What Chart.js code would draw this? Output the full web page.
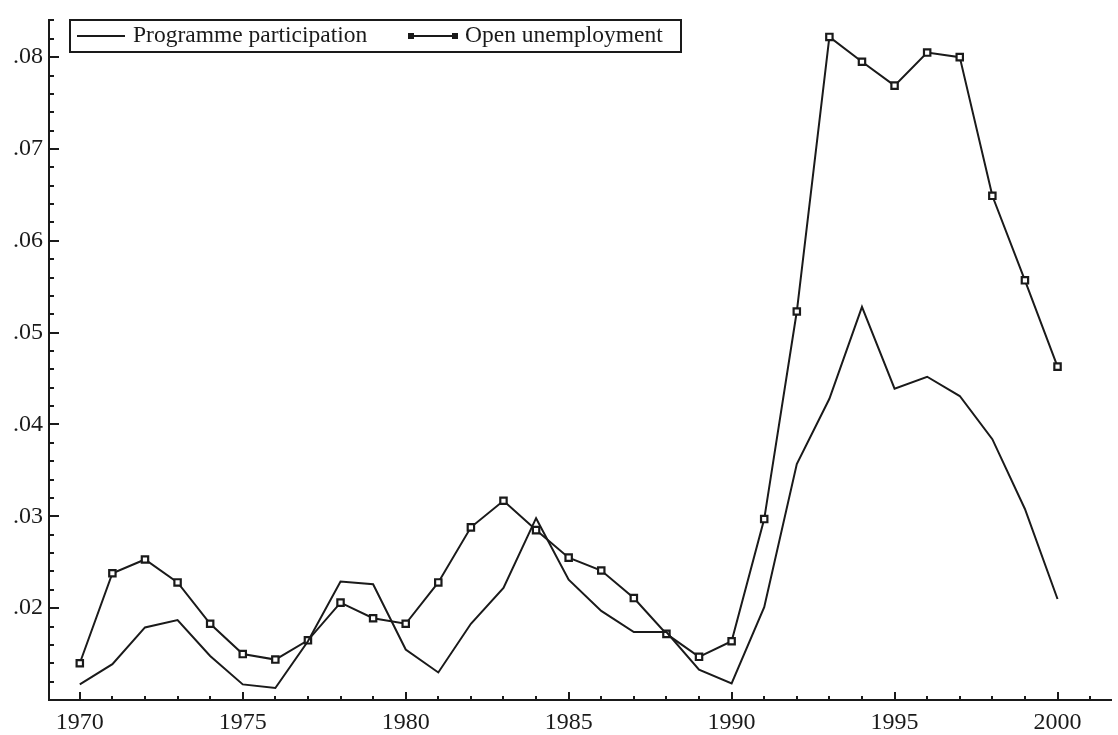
<!DOCTYPE html>
<html>
<head>
<meta charset="utf-8">
<title>Programme participation and open unemployment, 1970–2000</title>
<script src="https://cdn.jsdelivr.net/npm/chart.js@4.4.1/dist/chart.umd.min.js"></script>
<style>
  html, body { margin: 0; padding: 0; background: #ffffff; }
  #wrap { width: 1118px; height: 735px; }
  canvas { display: block; }
</style>
</head>
<body>
<div id="wrap"><canvas id="chart" width="1118" height="735"></canvas></div>
<script>
// Annual series, 1970–2000 (share of labour force)
const years = [1970, 1971, 1972, 1973, 1974, 1975, 1976, 1977, 1978, 1979,
               1980, 1981, 1982, 1983, 1984, 1985, 1986, 1987, 1988, 1989,
               1990, 1991, 1992, 1993, 1994, 1995, 1996, 1997, 1998, 1999, 2000];

const programmeParticipation = [0.0117, 0.0139, 0.0179, 0.0187, 0.0148, 0.0117, 0.0113, 0.0164, 0.0229, 0.0226,
                                0.0155, 0.0130, 0.0183, 0.0222, 0.0298, 0.0231, 0.0197, 0.0174, 0.0174, 0.0133,
                                0.0118, 0.0201, 0.0357, 0.0428, 0.0528, 0.0439, 0.0452, 0.0431, 0.0384, 0.0308, 0.0210];

const openUnemployment = [0.0140, 0.0238, 0.0253, 0.0228, 0.0183, 0.0150, 0.0144, 0.0165, 0.0206, 0.0189,
                          0.0183, 0.0228, 0.0288, 0.0317, 0.0285, 0.0255, 0.0241, 0.0211, 0.0172, 0.0147,
                          0.0164, 0.0297, 0.0523, 0.0822, 0.0795, 0.0769, 0.0805, 0.0800, 0.0649, 0.0557, 0.0463];

// Labelled ticks
const xTickLabels = [1970, 1975, 1980, 1985, 1990, 1995, 2000];
const yTickLabels = [0.02, 0.03, 0.04, 0.05, 0.06, 0.07, 0.08];

// Legend entries
const seriesNames = ['Programme participation', 'Open unemployment'];

const INK = '#1a1a1a';
const FONT_FAMILY = '"Liberation Serif", "Times New Roman", serif';

const toPoints = (vals) => years.map((yr, i) => ({ x: yr, y: vals[i] }));

// Tick marks drawn inward from both axes: every year / every 0.002,
// longer marks at every fifth year / every 0.01.
const innerTicks = {
  id: 'innerTicks',
  afterDraw(chart) {
    const { ctx, chartArea, scales: { x, y } } = chart;
    ctx.save();
    ctx.strokeStyle = INK;
    ctx.lineWidth = 2;
    ctx.beginPath();
    for (let k = 0; ; k++) {
      const v = y.min + k * 0.002;
      if (v > y.max + 1e-9) break;
      const py = Math.round(y.getPixelForValue(v));
      const len = (k % 5 === 0) ? 10 : 5;
      ctx.moveTo(chartArea.left, py);
      ctx.lineTo(chartArea.left + len, py);
    }
    for (let yr = Math.ceil(x.min); yr <= x.max; yr++) {
      const px = Math.round(x.getPixelForValue(yr));
      if (px <= chartArea.left + 1) continue;
      const len = (yr % 5 === 0) ? 8 : 4;
      ctx.moveTo(px, chartArea.bottom);
      ctx.lineTo(px, chartArea.bottom - len);
    }
    ctx.stroke();
    ctx.restore();
  }
};

// Boxed legend inside the plot, top-left
const boxedLegend = {
  id: 'boxedLegend',
  afterDraw(chart) {
    const { ctx, chartArea } = chart;
    const left = chartArea.left + 21, top = 20, right = 681, bottom = 52;
    const midY = (top + bottom) / 2;
    ctx.save();
    ctx.fillStyle = '#ffffff';
    ctx.fillRect(left, top, right - left, bottom - top);
    ctx.strokeStyle = INK;
    ctx.lineWidth = 2;
    ctx.strokeRect(left, top, right - left, bottom - top);

    // first entry: plain line
    ctx.beginPath();
    ctx.moveTo(left + 7, midY);
    ctx.lineTo(left + 55, midY);
    ctx.stroke();

    // second entry: line with square markers at each end
    const s0 = 411, s1 = 455;
    ctx.beginPath();
    ctx.moveTo(s0, midY);
    ctx.lineTo(s1, midY);
    ctx.stroke();
    ctx.fillStyle = INK;
    ctx.fillRect(s0 - 3, midY - 3, 6, 6);
    ctx.fillRect(s1 - 3, midY - 3, 6, 6);

    ctx.font = '23.5px ' + FONT_FAMILY;
    ctx.textBaseline = 'middle';
    ctx.textAlign = 'left';
    ctx.fillStyle = INK;
    ctx.fillText(seriesNames[0], left + 63, midY);
    ctx.fillText(seriesNames[1], 465, midY);
    ctx.restore();
  }
};

new Chart(document.getElementById('chart'), {
  type: 'line',
  data: {
    datasets: [
      {
        label: seriesNames[0],
        data: toPoints(programmeParticipation),
        borderColor: INK,
        borderWidth: 2,
        pointRadius: 0,
        tension: 0,
        fill: false
      },
      {
        label: seriesNames[1],
        data: toPoints(openUnemployment),
        borderColor: INK,
        borderWidth: 2,
        pointStyle: 'rect',
        pointRadius: 4.5,
        pointBorderWidth: 2.2,
        pointBackgroundColor: '#ffffff',
        pointBorderColor: INK,
        tension: 0,
        fill: false
      }
    ]
  },
  options: {
    responsive: false,
    animation: false,
    devicePixelRatio: 1,
    layout: { padding: { top: 6, right: 0, left: 0, bottom: 0 } },
    plugins: {
      legend: { display: false },
      tooltip: { enabled: false }
    },
    scales: {
      x: {
        type: 'linear',
        min: 1969.055,
        max: 2001.65,
        grid: { display: false, drawTicks: false },
        border: { display: true, color: INK, width: 2 },
        afterBuildTicks: (scale) => { scale.ticks = xTickLabels.map(v => ({ value: v })); },
        afterFit: (scale) => { scale.height = 35; },
        ticks: {
          padding: 8,
          color: INK,
          font: { family: FONT_FAMILY, size: 24 },
          maxRotation: 0,
          autoSkip: false,
          callback: (v) => String(v)
        }
      },
      y: {
        type: 'linear',
        min: 0.01,
        max: 0.084,
        grid: { display: false, drawTicks: false },
        border: { display: true, color: INK, width: 2 },
        afterBuildTicks: (scale) => { scale.ticks = yTickLabels.map(v => ({ value: v })); },
        afterFit: (scale) => { scale.width = 49; },
        ticks: {
          padding: 6,
          color: INK,
          font: { family: FONT_FAMILY, size: 24 },
          autoSkip: false,
          callback: (v) => '.' + Number(v).toFixed(2).slice(2)
        }
      }
    }
  },
  plugins: [innerTicks, boxedLegend]
});
</script>
</body>
</html>
